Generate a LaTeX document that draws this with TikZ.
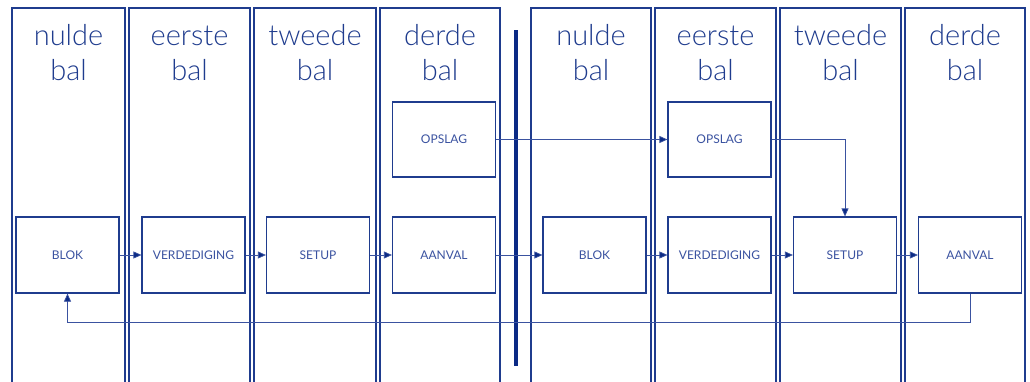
\documentclass[tikz,border=0pt]{standalone}
\usepackage{fontspec}
\setmainfont{Lato}
\newfontfamily\hdrfont{Lato Light}
\usetikzlibrary{arrows.meta}
\definecolor{navy}{HTML}{1F3C8E}
\definecolor{dnavy}{HTML}{0B2A85}
\definecolor{lnavy}{HTML}{3A52A0}
\begin{document}
\begin{tikzpicture}[x=1pt,y=-1pt,
  col/.style={draw=navy,line width=1.4pt},
  hdr/.style={text=navy,font=\hdrfont\fontsize{29}{34}\selectfont,anchor=base,inner sep=0pt},
  blk/.style={draw=navy,line width=1.2pt,minimum width=103pt,minimum height=76pt,inner sep=0pt,text=lnavy,font=\fontsize{12}{14}\selectfont},
  conn/.style={draw=lnavy,line width=0.7pt,-{Triangle[length=8pt,width=7pt,fill=dnavy]}},
  line/.style={draw=lnavy,line width=0.7pt}]
\useasboundingbox (0,0) rectangle (1030,381);
\clip (0,0) rectangle (1030,381);
\fill[white] (0,0) rectangle (1030,381);
% columns
\foreach \l/\r in {12/125,129/250,254/376,380/500,531/651,655/776,780/901,905/1025}{
  \draw[col] (\l,395) -- (\l,8) -- (\r,8) -- (\r,395);
}
% headers
\node[hdr] (h1a) at (68.5,45) {nulde};   \node[hdr] (h1b) at (68.5,80) {bal};
\node[hdr] (h2a) at (189.5,45) {eerste}; \node[hdr] (h2b) at (189.5,80) {bal};
\node[hdr] (h3a) at (315,45) {tweede};   \node[hdr] (h3b) at (315,80) {bal};
\node[hdr] (h4a) at (440,45) {derde};    \node[hdr] (h4b) at (440,80) {bal};
\node[hdr] (h5a) at (591,45) {nulde};    \node[hdr] (h5b) at (591,80) {bal};
\node[hdr] (h6a) at (715.5,45) {eerste}; \node[hdr] (h6b) at (715.5,80) {bal};
\node[hdr] (h7a) at (840.5,45) {tweede}; \node[hdr] (h7b) at (840.5,80) {bal};
\node[hdr] (h8a) at (965,45) {derde};    \node[hdr] (h8b) at (965,80) {bal};
% divider
\draw[dnavy,line width=3.5pt] (516,30) -- (516,366);
% boxes
\node[blk] (blok1) at (67.5,255) {BLOK};
\node[blk] (verd1) at (193.5,255) {VERDEDIGING};
\node[blk] (setup1) at (318,255) {SETUP};
\node[blk] (aanval1) at (444,255) {AANVAL};
\node[blk,minimum height=75pt] (opslag1) at (444,139.5) {OPSLAG};
\node[blk] (blok2) at (594.5,255) {BLOK};
\node[blk] (verd2) at (719.5,255) {VERDEDIGING};
\node[blk,minimum height=75pt] (opslag2) at (719.5,139.5) {OPSLAG};
\node[blk] (setup2) at (845,255) {SETUP};
\node[blk] (aanval2) at (970,255) {AANVAL};
% connectors
\draw[conn] (blok1) -- (verd1);
\draw[conn] (verd1) -- (setup1);
\draw[conn] (setup1) -- (aanval1);
\draw[conn] (aanval1) -- (blok2);
\draw[conn] (blok2) -- (verd2);
\draw[conn] (verd2) -- (setup2);
\draw[conn] (setup2) -- (aanval2);
\draw[conn] (opslag1) -- (opslag2);
\draw[conn] (opslag2.east) -| (setup2.north);
\draw[conn] (aanval2.south) -- ++(0,29) -| (blok1.south);
\end{tikzpicture}
\end{document}
